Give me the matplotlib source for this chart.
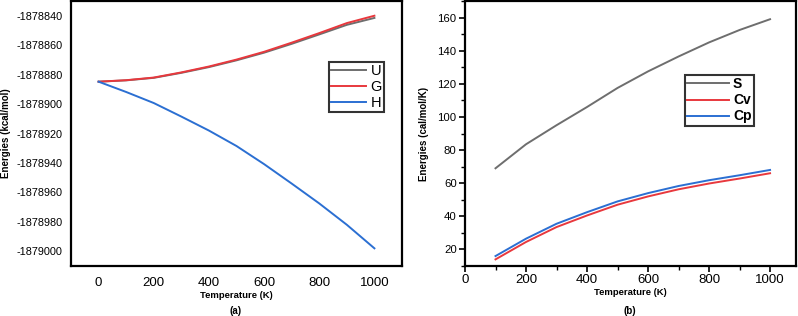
import matplotlib
matplotlib.use("Agg")
import matplotlib.pyplot as plt
from matplotlib.ticker import MultipleLocator, FormatStrFormatter

plt.rcParams['font.family'] = ['Liberation Sans', 'DejaVu Sans']
plt.rcParams['axes.unicode_minus'] = False

# (a) energies vs temperature
temp_a = [0, 100, 200, 300, 400, 500, 600, 700, 800, 900, 1000]
U = [-1878884.8, -1878883.9, -1878882.2, -1878878.8, -1878874.9, -1878870.3,
     -1878865.1, -1878859.1, -1878852.7, -1878846.2, -1878841.5]
G = [-1878884.8, -1878883.8, -1878882.0, -1878878.5, -1878874.5, -1878869.8,
     -1878864.5, -1878858.3, -1878851.8, -1878845.0, -1878840.0]
H = [-1878884.8, -1878891.8, -1878899.3, -1878908.5, -1878918.0, -1878928.5,
     -1878940.8, -1878954.0, -1878967.5, -1878982.0, -1878998.0]

# (b) entropy and heat capacities
temp_b = [100, 200, 300, 400, 500, 600, 700, 800, 900, 1000]
S = [69.0, 83.5, 95.0, 106.0, 117.5, 127.5, 136.5, 145.0, 152.5, 159.0]
Cv = [14.0, 24.5, 33.5, 40.5, 47.0, 52.0, 56.3, 59.8, 62.8, 66.0]
Cp = [16.0, 26.5, 35.5, 42.5, 49.0, 54.0, 58.3, 61.8, 64.8, 68.0]

gray = '#6e6e6e'
red = '#e8383d'
blue = '#2b6fd2'

fig = plt.figure(figsize=(7.98, 3.16), dpi=100)
ax1 = fig.add_axes([71/798, 1-266/316, (402-71)/798, 265/316])
ax2 = fig.add_axes([465/798, 1-266/316, (796-465)/798, 265/316])

lw = 1.4
ax1.plot(temp_a, U, color=gray, lw=lw, label='U')
ax1.plot(temp_a, G, color=red, lw=lw, label='G')
ax1.plot(temp_a, H, color=blue, lw=lw, label='H')
ax1.set_xlim(-100, 1100)
ax1.set_ylim(-1879010, -1878830)
ax1.set_xticks(range(0, 1001, 200))
ax1.set_yticks(range(-1879000, -1878839, 20))
ax1.yaxis.set_major_formatter(FormatStrFormatter('%d'))
ax1.tick_params(length=0, pad=6)
ax1.tick_params(axis='x', labelsize=9.5, pad=8)
ax1.tick_params(axis='y', labelsize=7.8)
ax1.set_xlabel('Temperature (K)', fontsize=6.8, fontweight='bold', labelpad=1)
ax1.set_ylabel('Energies (kcal/mol)', fontsize=7, fontweight='bold', labelpad=4)
leg1 = ax1.legend(loc='upper left', bbox_to_anchor=(0.78, 0.77), fontsize=10.5,
                  frameon=True, fancybox=False, handlelength=2.4, handletextpad=0.3,
                  borderpad=0.15, labelspacing=0.12, borderaxespad=0)
leg1.get_frame().set_edgecolor('black')
leg1.get_frame().set_linewidth(1.5)
fig.text(236/798, 1-311/316, '(a)', ha='center', va='center', fontsize=7, fontweight='bold')

ax2.plot(temp_b, S, color=gray, lw=lw, label='S')
ax2.plot(temp_b, Cv, color=red, lw=lw, label='Cv')
ax2.plot(temp_b, Cp, color=blue, lw=lw, label='Cp')
ax2.set_xlim(0, 1085)
ax2.set_ylim(10, 170)
ax2.set_xticks(range(0, 1001, 200))
ax2.set_yticks(range(20, 161, 20))
ax2.xaxis.set_minor_locator(MultipleLocator(100))
ax2.yaxis.set_minor_locator(MultipleLocator(10))
ax2.tick_params(which='major', length=4, width=1.2, direction='out')
ax2.tick_params(which='minor', length=3, width=1.0, direction='out')
ax2.tick_params(axis='x', labelsize=9.5, pad=2)
ax2.tick_params(axis='y', labelsize=8.2, pad=2)
ax2.set_xlabel('Temperature (K)', fontsize=6.8, fontweight='bold', labelpad=1)
ax2.set_ylabel('Energies (cal/mol/K)', fontsize=7, fontweight='bold', labelpad=6)
leg2 = ax2.legend(loc='upper left', bbox_to_anchor=(0.665, 0.72),
                  prop={'size': 10, 'weight': 'bold'},
                  frameon=True, fancybox=False, handlelength=3.0, handletextpad=0.3,
                  borderpad=0.15, labelspacing=0.15, borderaxespad=0)
leg2.get_frame().set_edgecolor('black')
leg2.get_frame().set_linewidth(1.5)
fig.text(630/798, 1-311/316, '(b)', ha='center', va='center', fontsize=7, fontweight='bold')

for ax in (ax1, ax2):
    for sp in ax.spines.values():
        sp.set_linewidth(1.6)

fig.savefig('out.png', dpi=100)
